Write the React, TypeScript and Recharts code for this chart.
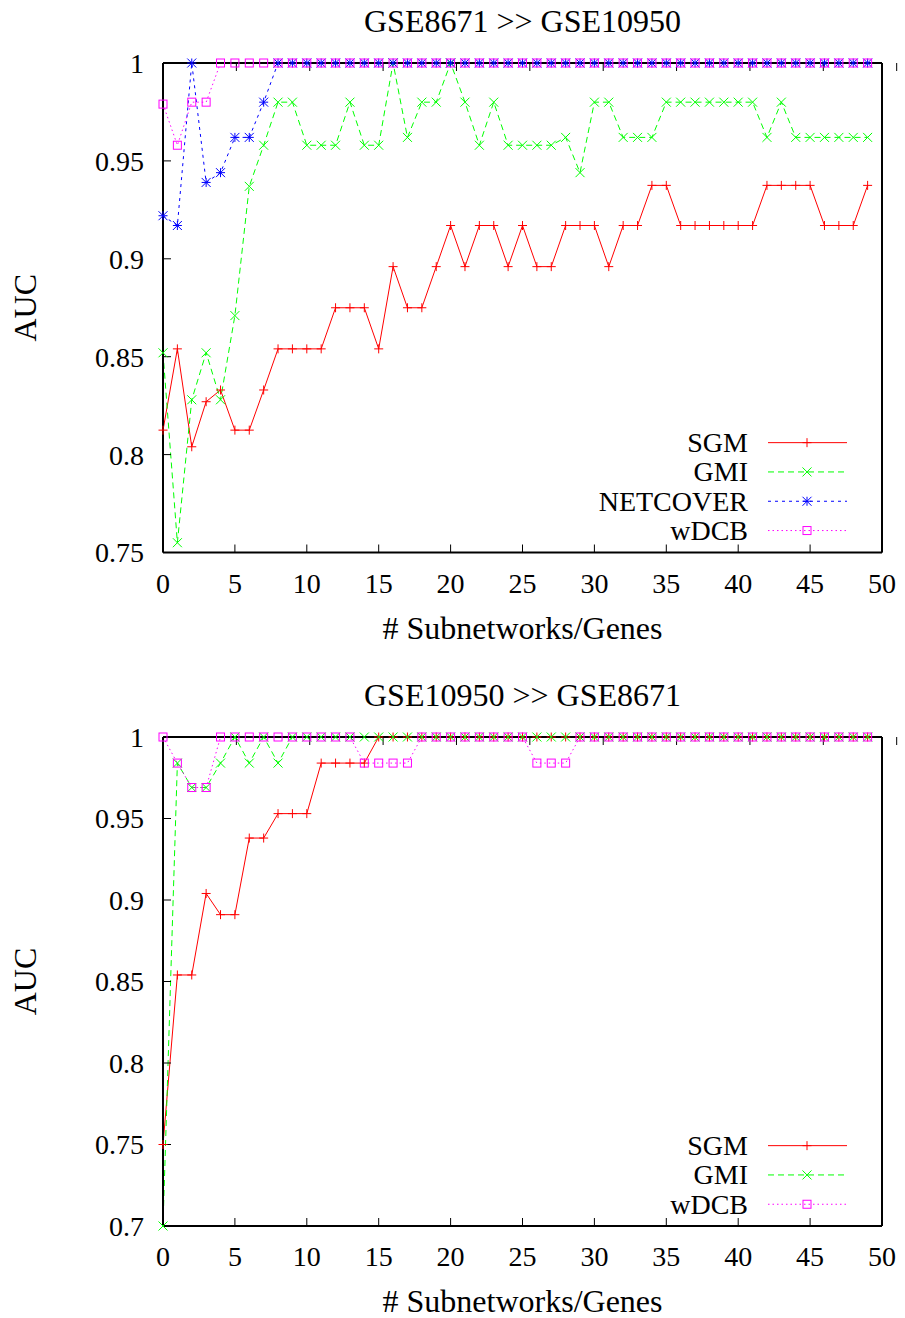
import React from 'react';
import { LineChart, Line, XAxis, YAxis, Label, Legend } from 'recharts';

// Number of selected subnetworks / genes (x axis)
const subnetworkCounts = [
  0, 1, 2, 3, 4, 5, 6, 7, 8, 9,
  10, 11, 12, 13, 14, 15, 16, 17, 18, 19,
  20, 21, 22, 23, 24, 25, 26, 27, 28, 29,
  30, 31, 32, 33, 34, 35, 36, 37, 38, 39,
  40, 41, 42, 43, 44, 45, 46, 47, 48, 49,
];

// GSE8671 >> GSE10950
const sgmTop = [
  0.8125, 0.854, 0.804, 0.827, 0.833, 0.8125, 0.8125, 0.833, 0.854, 0.854,
  0.854, 0.854, 0.875, 0.875, 0.875, 0.854, 0.896, 0.875, 0.875, 0.896,
  0.917, 0.896, 0.917, 0.917, 0.896, 0.917, 0.896, 0.896, 0.917, 0.917,
  0.917, 0.896, 0.917, 0.917, 0.9375, 0.9375, 0.917, 0.917, 0.917, 0.917,
  0.917, 0.917, 0.9375, 0.9375, 0.9375, 0.9375, 0.917, 0.917, 0.917, 0.9375,
];
const gmiTop = [
  0.852, 0.755, 0.828, 0.852, 0.828, 0.871, 0.937, 0.958, 0.98, 0.98,
  0.958, 0.958, 0.958, 0.98, 0.958, 0.958, 1, 0.962, 0.98, 0.98,
  1, 0.98, 0.958, 0.98, 0.958, 0.958, 0.958, 0.958, 0.962, 0.944,
  0.98, 0.98, 0.962, 0.962, 0.962, 0.98, 0.98, 0.98, 0.98, 0.98,
  0.98, 0.98, 0.962, 0.98, 0.962, 0.962, 0.962, 0.962, 0.962, 0.962,
];
const netcoverTop = [
  0.922, 0.917, 1, 0.939, 0.944, 0.962, 0.962, 0.98, 1, 1,
  1, 1, 1, 1, 1, 1, 1, 1, 1, 1,
  1, 1, 1, 1, 1, 1, 1, 1, 1, 1,
  1, 1, 1, 1, 1, 1, 1, 1, 1, 1,
  1, 1, 1, 1, 1, 1, 1, 1, 1, 1,
];
const wdcbTop = [
  0.979, 0.958, 0.98, 0.98, 1, 1, 1, 1, 1, 1,
  1, 1, 1, 1, 1, 1, 1, 1, 1, 1,
  1, 1, 1, 1, 1, 1, 1, 1, 1, 1,
  1, 1, 1, 1, 1, 1, 1, 1, 1, 1,
  1, 1, 1, 1, 1, 1, 1, 1, 1, 1,
];

// GSE10950 >> GSE8671
const sgmBottom = [
  0.75, 0.854, 0.854, 0.904, 0.891, 0.891, 0.938, 0.938, 0.953, 0.953,
  0.953, 0.984, 0.984, 0.984, 0.984, 1, 1, 1, 1, 1,
  1, 1, 1, 1, 1, 1, 1, 1, 1, 1,
  1, 1, 1, 1, 1, 1, 1, 1, 1, 1,
  1, 1, 1, 1, 1, 1, 1, 1, 1, 1,
];
const gmiBottom = [
  0.7, 0.984, 0.969, 0.969, 0.984, 1, 0.984, 1, 0.984, 1,
  1, 1, 1, 1, 1, 1, 1, 1, 1, 1,
  1, 1, 1, 1, 1, 1, 1, 1, 1, 1,
  1, 1, 1, 1, 1, 1, 1, 1, 1, 1,
  1, 1, 1, 1, 1, 1, 1, 1, 1, 1,
];
const wdcbBottom = [
  1, 0.984, 0.969, 0.969, 1, 1, 1, 1, 1, 1,
  1, 1, 1, 1, 0.984, 0.984, 0.984, 0.984, 1, 1,
  1, 1, 1, 1, 1, 1, 0.984, 0.984, 0.984, 1,
  1, 1, 1, 1, 1, 1, 1, 1, 1, 1,
  1, 1, 1, 1, 1, 1, 1, 1, 1, 1,
];

const xTicks = [0, 5, 10, 15, 20, 25, 30, 35, 40, 45, 50];
const yTicksTop = [0.75, 0.8, 0.85, 0.9, 0.95, 1];
const yTicksBottom = [0.7, 0.75, 0.8, 0.85, 0.9, 0.95, 1];

const FONT = '"Liberation Serif", "Times New Roman", Times, serif';
const W = 905;
const H = 659;

type MarkerKind = 'plus' | 'cross' | 'star' | 'square';
type SeriesStyle = { color: string; dash?: string; marker: MarkerKind };

const seriesStyles: Record<string, SeriesStyle> = {
  SGM: { color: '#ff0000', marker: 'plus' },
  GMI: { color: '#00ff00', dash: '6 4', marker: 'cross' },
  NETCOVER: { color: '#0000ff', dash: '3 4', marker: 'star' },
  wDCB: { color: '#ff00ff', dash: '1.5 3', marker: 'square' },
};

function Marker({ kind, cx, cy, color }: { kind: MarkerKind; cx: number; cy: number; color: string }) {
  if (cx == null || cy == null || Number.isNaN(cx) || Number.isNaN(cy)) return <g />;
  const s = 4.5;
  const plus = (
    <>
      <line x1={cx - s} x2={cx + s} y1={cy} y2={cy} stroke={color} strokeWidth={1} />
      <line x1={cx} x2={cx} y1={cy - s} y2={cy + s} stroke={color} strokeWidth={1} />
    </>
  );
  const cross = (
    <>
      <line x1={cx - s} x2={cx + s} y1={cy - s} y2={cy + s} stroke={color} strokeWidth={1} />
      <line x1={cx - s} x2={cx + s} y1={cy + s} y2={cy - s} stroke={color} strokeWidth={1} />
    </>
  );
  if (kind === 'plus') return <g>{plus}</g>;
  if (kind === 'cross') return <g>{cross}</g>;
  if (kind === 'star') return <g>{plus}{cross}</g>;
  return (
    <rect x={cx - 4} y={cy - 4} width={8} height={8} fill="none" stroke={color} strokeWidth={1} />
  );
}

type PanelProps = {
  title: string;
  series: { name: string; values: number[] }[];
  yDomain: [number, number];
  yTicks: number[];
  marginTop: number;
  marginBottom: number;
};

const fmt = (v: number) => String(+v.toFixed(2));

function Panel({ title, series, yDomain, yTicks, marginTop, marginBottom }: PanelProps) {
  const rows = subnetworkCounts.map((n, i) => {
    const row: Record<string, number> = { n };
    series.forEach((s) => {
      row[s.name] = s.values[i];
    });
    return row;
  });

  const plotBottom = H - marginBottom - 40;
  const rowGap = 29.3;
  const legendHeight = series.length * rowGap;
  const legendTop = plotBottom - 22 - (series.length - 1) * rowGap - rowGap / 2;

  const renderLegend = () => (
    <svg width={320} height={legendHeight} style={{ overflow: 'visible', display: 'block' }}>
      {series.map((s, i) => {
        const st = seriesStyles[s.name];
        const cy = rowGap / 2 + i * rowGap;
        return (
          <g key={s.name}>
            <text
              x={188}
              y={cy}
              dy="0.34em"
              textAnchor="end"
              fontSize={28}
              style={{ fontFamily: FONT }}
              fill="#000"
            >
              {s.name}
            </text>
            <line x1={208} x2={287} y1={cy} y2={cy} stroke={st.color} strokeWidth={1} strokeDasharray={st.dash} />
            <Marker kind={st.marker} cx={247} cy={cy} color={st.color} />
          </g>
        );
      })}
    </svg>
  );

  const tickStyle = { fontSize: 28, fill: '#000', style: { fontFamily: FONT } };
  const axisLine = { stroke: '#000', strokeWidth: 2 };
  const tickLine = { stroke: '#000', strokeWidth: 1 };
  const labelStyle = { fontFamily: FONT };

  return (
    <LineChart
      width={W}
      height={H}
      data={rows}
      margin={{ top: marginTop, right: 22, bottom: marginBottom, left: 0 }}
      style={{ fontFamily: FONT }}
    >
      <XAxis
        dataKey="n"
        type="number"
        domain={[0, 50]}
        ticks={xTicks}
        interval={0}
        tickSize={-8}
        tickMargin={28.5}
        height={40}
        tick={tickStyle}
        axisLine={axisLine}
        tickLine={tickLine}
      >
        <Label
          value="# Subnetworks/Genes"
          position="bottom"
          offset={23.5}
          fontSize={32}
          fill="#000"
          style={labelStyle}
        />
      </XAxis>
      <XAxis
        xAxisId="top"
        orientation="top"
        type="number"
        domain={[0, 50]}
        ticks={xTicks}
        interval={0}
        tickSize={-8}
        height={1}
        tickFormatter={() => ''}
        axisLine={axisLine}
        tickLine={tickLine}
      >
        <Label value={title} position="top" offset={30} fontSize={32} fill="#000" style={labelStyle} />
      </XAxis>
      <YAxis
        type="number"
        domain={yDomain}
        ticks={yTicks}
        interval={0}
        width={163}
        tickSize={-8}
        tickMargin={27}
        tickFormatter={fmt}
        tick={tickStyle}
        axisLine={axisLine}
        tickLine={tickLine}
      >
        <Label
          value="AUC"
          angle={-90}
          position="insideLeft"
          offset={25}
          fontSize={32}
          fill="#000"
          style={{ textAnchor: 'middle', fontFamily: FONT }}
        />
      </YAxis>
      <YAxis
        yAxisId="right"
        orientation="right"
        type="number"
        domain={yDomain}
        ticks={yTicks}
        interval={0}
        width={1}
        tickSize={-8}
        tickFormatter={() => ''}
        axisLine={axisLine}
        tickLine={tickLine}
      />
      {series.map((s) => {
        const st = seriesStyles[s.name];
        return (
          <Line
            key={s.name}
            dataKey={s.name}
            type="linear"
            stroke={st.color}
            strokeWidth={1}
            strokeDasharray={st.dash}
            isAnimationActive={false}
            activeDot={false}
            dot={(p: any) => (
              <Marker key={`${s.name}-${p.index}`} kind={st.marker} cx={p.cx} cy={p.cy} color={st.color} />
            )}
          />
        );
      })}
      <Legend
        layout="horizontal"
        verticalAlign="middle"
        align="center"
        content={renderLegend}
        wrapperStyle={{ left: 560, top: legendTop, width: 320, height: legendHeight }}
      />
    </LineChart>
  );
}

export default function App() {
  return (
    <div
      style={{
        position: 'absolute',
        left: 0,
        top: 0,
        width: W,
        height: 2 * H,
        background: '#fff',
        fontFamily: FONT,
      }}
    >
      <style>{`.recharts-text, .recharts-label, .recharts-cartesian-axis-tick-value { font-family: ${FONT} !important; }`}</style>
      <Panel
        title="GSE8671 >> GSE10950"
        series={[
          { name: 'SGM', values: sgmTop },
          { name: 'GMI', values: gmiTop },
          { name: 'NETCOVER', values: netcoverTop },
          { name: 'wDCB', values: wdcbTop },
        ]}
        yDomain={[0.75, 1]}
        yTicks={yTicksTop}
        marginTop={62}
        marginBottom={66.5}
      />
      <Panel
        title="GSE10950 >> GSE8671"
        series={[
          { name: 'SGM', values: sgmBottom },
          { name: 'GMI', values: gmiBottom },
          { name: 'wDCB', values: wdcbBottom },
        ]}
        yDomain={[0.7, 1]}
        yTicks={yTicksBottom}
        marginTop={77}
        marginBottom={52}
      />
    </div>
  );
}
